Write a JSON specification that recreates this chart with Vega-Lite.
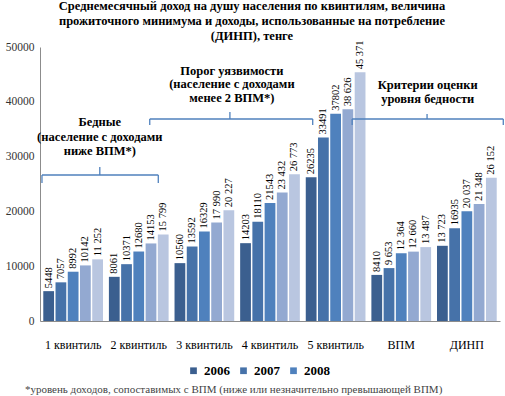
{
  "$schema": "https://vega.github.io/schema/vega-lite/v6.json",
  "width": 460,
  "height": 274,
  "autosize": {"type": "none"},
  "padding": {"left": 40, "top": 47, "right": 5, "bottom": 75},
  "background": "white",
  "config": {"view": {"stroke": null}, "font": "Liberation Serif, Times New Roman, serif"},
  "title": {
    "text": ["Среднемесячный доход на душу населения по квинтилям, величина", "прожиточного минимума и доходы, использованные на потребление", "(ДИНП), тенге"],
    "font": "Liberation Serif, Times New Roman, serif", "fontSize": 12.5, "fontWeight": "bold", "color": "black",
    "anchor": "middle", "dx": -18, "offset": -2, "lineHeight": 15
  },
  "datasets": {
    "bars": [
      {"g": "1 квинтиль", "s": "2006", "v": 5448, "t": "5448"},
      {"g": "1 квинтиль", "s": "2007", "v": 7057, "t": "7057"},
      {"g": "1 квинтиль", "s": "2008", "v": 8992, "t": "8992"},
      {"g": "1 квинтиль", "s": "2009", "v": 10142, "t": "10142"},
      {"g": "1 квинтиль", "s": "2010", "v": 11252, "t": "11 252"},
      {"g": "2 квинтиль", "s": "2006", "v": 8061, "t": "8061"},
      {"g": "2 квинтиль", "s": "2007", "v": 10371, "t": "10371"},
      {"g": "2 квинтиль", "s": "2008", "v": 12680, "t": "12680"},
      {"g": "2 квинтиль", "s": "2009", "v": 14153, "t": "14153"},
      {"g": "2 квинтиль", "s": "2010", "v": 15799, "t": "15 799"},
      {"g": "3 квинтиль", "s": "2006", "v": 10560, "t": "10560"},
      {"g": "3 квинтиль", "s": "2007", "v": 13592, "t": "13592"},
      {"g": "3 квинтиль", "s": "2008", "v": 16329, "t": "16329"},
      {"g": "3 квинтиль", "s": "2009", "v": 17990, "t": "17 990"},
      {"g": "3 квинтиль", "s": "2010", "v": 20227, "t": "20 227"},
      {"g": "4 квинтиль", "s": "2006", "v": 14203, "t": "14203"},
      {"g": "4 квинтиль", "s": "2007", "v": 18110, "t": "18110"},
      {"g": "4 квинтиль", "s": "2008", "v": 21543, "t": "21543"},
      {"g": "4 квинтиль", "s": "2009", "v": 23432, "t": "23 432"},
      {"g": "4 квинтиль", "s": "2010", "v": 26773, "t": "26 773"},
      {"g": "5 квинтиль", "s": "2006", "v": 26235, "t": "26235"},
      {"g": "5 квинтиль", "s": "2007", "v": 33491, "t": "33491"},
      {"g": "5 квинтиль", "s": "2008", "v": 37802, "t": "37802"},
      {"g": "5 квинтиль", "s": "2009", "v": 38626, "t": "38 626"},
      {"g": "5 квинтиль", "s": "2010", "v": 45371, "t": "45 371"},
      {"g": "ВПМ", "s": "2006", "v": 8410, "t": "8410"},
      {"g": "ВПМ", "s": "2007", "v": 9653, "t": "9 653"},
      {"g": "ВПМ", "s": "2008", "v": 12364, "t": "12 364"},
      {"g": "ВПМ", "s": "2009", "v": 12660, "t": "12 660"},
      {"g": "ВПМ", "s": "2010", "v": 13487, "t": "13 487"},
      {"g": "ДИНП", "s": "2006", "v": 13723, "t": "13 723"},
      {"g": "ДИНП", "s": "2007", "v": 16935, "t": "16935"},
      {"g": "ДИНП", "s": "2008", "v": 20037, "t": "20 037"},
      {"g": "ДИНП", "s": "2009", "v": 21348, "t": "21 348"},
      {"g": "ДИНП", "s": "2010", "v": 26152, "t": "26 152"}
    ],
    "braces": [
      {"x1": 0.03, "x2": 1.80, "y1": 26642, "y2": 26642},
      {"x1": 0.03, "x2": 0.03, "y1": 26642, "y2": 25182},
      {"x1": 1.80, "x2": 1.80, "y1": 26642, "y2": 25182},
      {"x1": 0.91, "x2": 0.91, "y1": 26642, "y2": 28102},
      {"x1": 1.67, "x2": 4.15, "y1": 36861, "y2": 36861},
      {"x1": 1.67, "x2": 1.67, "y1": 36861, "y2": 35766},
      {"x1": 4.15, "x2": 4.15, "y1": 36861, "y2": 35766},
      {"x1": 2.89, "x2": 2.89, "y1": 36861, "y2": 38139},
      {"x1": 4.75, "x2": 7.05, "y1": 36861, "y2": 36861},
      {"x1": 4.75, "x2": 4.75, "y1": 36861, "y2": 35766},
      {"x1": 7.05, "x2": 7.05, "y1": 36861, "y2": 35766},
      {"x1": 5.89, "x2": 5.89, "y1": 36861, "y2": 37774}
    ],
    "notes": [
      {"x": 0.91, "y": 36314, "t": "Бедные"},
      {"x": 0.91, "y": 33577, "t": "(население с доходами"},
      {"x": 0.91, "y": 31022, "t": "ниже ВПМ*)"},
      {"x": 2.92, "y": 45620, "t": "Порог уязвимости"},
      {"x": 2.92, "y": 43248, "t": "(население с доходами"},
      {"x": 2.92, "y": 40693, "t": "менее 2 ВПМ*)"},
      {"x": 5.90, "y": 43066, "t": "Критерии оценки"},
      {"x": 5.90, "y": 40511, "t": "уровня бедности"}
    ],
    "foot": [
      {"x": -0.23, "y": -12591, "t": "*уровень доходов, сопоставимых с ВПМ (ниже или незначительно превышающей ВПМ)"}
    ]
  },
  "resolve": {"scale": {"x": "independent"}, "axis": {"x": "independent"}},
  "layer": [
    {
      "data": {"name": "bars"},
      "encoding": {
        "x": {"field": "g", "type": "nominal", "sort": null, "title": null,
              "scale": {"paddingInner": 0.09, "paddingOuter": 0.05},
              "axis": {"labelAngle": 0, "ticks": false, "domainColor": "#8c8c8c", "labelFont": "Liberation Serif, Times New Roman, serif", "labelFontSize": 12, "labelColor": "black", "labelPadding": 18}},
        "xOffset": {"field": "s", "type": "nominal", "sort": null, "scale": {"paddingInner": 0.12}},
        "y": {"field": "v", "type": "quantitative", "title": null,
              "scale": {"domain": [0, 50000], "nice": false},
              "axis": {"values": [0, 5000, 10000, 15000, 20000, 25000, 30000, 35000, 40000, 45000, 50000], "format": "d", "grid": false, "ticks": false, "domainColor": "#8c8c8c", "labelFont": "Liberation Serif, Times New Roman, serif", "labelFontSize": 11.5, "labelColor": "#333333", "labelPadding": 6}}
      },
      "layer": [
        {
          "mark": {"type": "bar"},
          "encoding": {
            "color": {"field": "s", "type": "nominal", "sort": null, "title": null,
                      "scale": {"domain": ["2006", "2007", "2008", "2009", "2010"], "range": ["#3B5F8F", "#4672A9", "#4F81BD", "#93A9D1", "#B9C6E0"]},
                      "legend": {"values": ["2006", "2007", "2008"], "orient": "none", "legendX": 147, "legendY": 317, "direction": "horizontal", "symbolType": "square", "symbolSize": 45, "labelFont": "Liberation Serif, Times New Roman, serif", "labelFontSize": 13, "labelFontWeight": "bold", "labelColor": "black", "columnPadding": 7}}
          }
        },
        {
          "mark": {"type": "text", "angle": 270, "align": "left", "baseline": "middle", "dx": 3, "fontSize": 10.5, "font": "Liberation Serif, Times New Roman, serif", "color": "black"},
          "encoding": {"text": {"field": "t"}}
        }
      ]
    },
    {
      "layer": [
        {
          "data": {"name": "braces"},
          "mark": {"type": "rule", "color": "#4F81BD", "strokeWidth": 1.3},
          "encoding": {
            "x": {"field": "x1", "type": "quantitative", "scale": {"domain": [0, 7], "nice": false, "zero": false}, "axis": null},
            "x2": {"field": "x2"},
            "y": {"field": "y1", "type": "quantitative", "title": null, "scale": {"domain": [0, 50000], "nice": false}},
            "y2": {"field": "y2"}
          }
        },
        {
          "data": {"name": "notes"},
          "mark": {"type": "text", "align": "center", "baseline": "middle", "fontSize": 12.5, "fontWeight": "bold", "font": "Liberation Serif, Times New Roman, serif", "color": "black"},
          "encoding": {
            "x": {"field": "x", "type": "quantitative", "scale": {"domain": [0, 7], "nice": false, "zero": false}, "axis": null},
            "y": {"field": "y", "type": "quantitative", "title": null, "scale": {"domain": [0, 50000], "nice": false}},
            "text": {"field": "t"}
          }
        },
        {
          "data": {"name": "foot"},
          "mark": {"type": "text", "align": "left", "baseline": "middle", "fontSize": 11, "font": "Liberation Serif, Times New Roman, serif", "color": "#444444"},
          "encoding": {
            "x": {"field": "x", "type": "quantitative", "scale": {"domain": [0, 7], "nice": false, "zero": false}, "axis": null},
            "y": {"field": "y", "type": "quantitative", "title": null, "scale": {"domain": [0, 50000], "nice": false}},
            "text": {"field": "t"}
          }
        }
      ]
    }
  ]
}
